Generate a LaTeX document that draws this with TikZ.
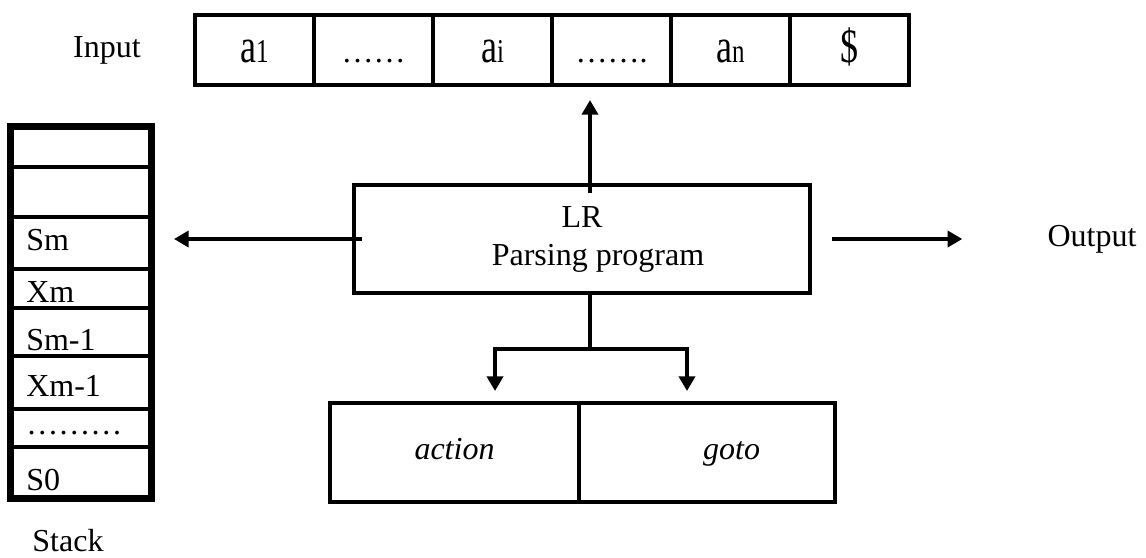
\documentclass[tikz,border=0pt]{standalone}
\usepackage{fontspec}
\setmainfont{Liberation Serif}
\usepackage{graphicx}
\usetikzlibrary{arrows.meta}

% narrow tape symbols, small suffix on the baseline
\newcommand{\tapesym}[2]{\scalebox{0.75}[1]{\fontsize{36}{40}\selectfont #1\fontsize{25}{28}\selectfont #2}}

\tikzset{
	tapecell/.style={draw, line width=3pt, minimum width=89.25pt, minimum height=52.5pt,
		inner sep=0pt, text height=22pt, text depth=4pt},
	stackcell/.style={draw, line width=3pt, minimum width=103.5pt, inner sep=0pt},
	stacklabel/.style={anchor=base west, inner sep=0pt},
	tablecell/.style={draw, line width=3pt, minimum height=74.25pt, inner sep=0pt,
		text height=17pt, text depth=6pt, font=\fontsize{24}{28}\selectfont\itshape},
	arr/.style={line width=3pt, -{Triangle[length=11pt,width=12pt]}},
}

\begin{document}
\begin{tikzpicture}[x=0.75pt, y=-0.75pt, font=\fontsize{24}{28.5}\selectfont]
	\useasboundingbox (0,0) rectangle (1146,557);

	% input tape
	\node (input) at (107,50) {Input};
	\node[tapecell] (c1) at (254.5,50) {\tapesym{a}{1}};
	\node[tapecell] (c2) at (373.5,50) {……};
	\node[tapecell] (c3) at (492.5,50) {\tapesym{a}{i}};
	\node[tapecell] (c4) at (611.5,50) {…….};
	\node[tapecell] (c5) at (730.5,50) {\tapesym{a}{n}};
	\node[tapecell] (c6) at (849.5,50) {\tapesym{\$}{}};

	% stack
	\node[stackcell, minimum height=29.25pt] (st1) at (81,147.5) {};
	\node[stackcell, minimum height=37.5pt]  (st2) at (81,192) {};
	\node[stackcell, minimum height=39pt]    (sm)  at (81,243) {};
	\node[stackcell, minimum height=29.25pt] (xm)  at (81,288.5) {};
	\node[stackcell, minimum height=36pt]    (sm1) at (81,332) {};
	\node[stackcell, minimum height=39.75pt] (xm1) at (81,382.5) {};
	\node[stackcell, minimum height=28.5pt]  (sdots) at (81,428) {};
	\node[stackcell, minimum height=37.5pt]  (s0)  at (81,472) {};
	\draw[line width=4.5pt] (st1.north west) rectangle (s0.south east);

	\node[stacklabel] (lsm)    at (26,250) {Sm};
	\node[stacklabel] (lxm)    at (26,302) {Xm};
	\node[stacklabel] (lsm1)   at (26,350) {Sm-1};
	\node[stacklabel] (lxm1)   at (26,396) {Xm-1};
	\node[stacklabel] (ldots)  at (26,434) {………};
	\node[stacklabel] (ls0)    at (26,490) {S0};
	\node (stack) at (68,541) {Stack};

	% parsing program
	\node[draw, line width=3pt, minimum width=342pt, minimum height=81pt, align=center]
		(prog) at (582,239) {LR\\\quad Parsing program};
	\node[inner sep=0pt] (output) at (1092,239) {Output};

	% parsing table
	\node[tablecell, minimum width=186.75pt] (action) at (454.5,452.5) {action};
	\node[tablecell, minimum width=192pt]    (goto)   at (707,452.5) {\hspace*{37pt}goto};

	% connectors
	\draw[arr, shorten >=9.75pt] ([xshift=6pt,yshift=-7.5pt]prog.north) -- ([xshift=6pt]prog.north |- c4.south);
	\draw[arr] ([xshift=7.5pt]prog.west) -- ([xshift=16.5pt]sm.east |- prog.west);
	\draw[arr] ([xshift=15pt]prog.east) -- ([xshift=-63.75pt]output.west);

	\coordinate (fork) at ([xshift=6pt,yshift=-40.5pt]prog.south);
	\draw[line width=3pt] ([xshift=6pt]prog.south) -- (fork);
	\draw[arr, shorten >=7.5pt] (fork) -| ([xshift=30.4pt]action.north);
	\draw[arr, shorten >=7.5pt] (fork) -| ([xshift=-15pt]goto.north);
\end{tikzpicture}
\end{document}
